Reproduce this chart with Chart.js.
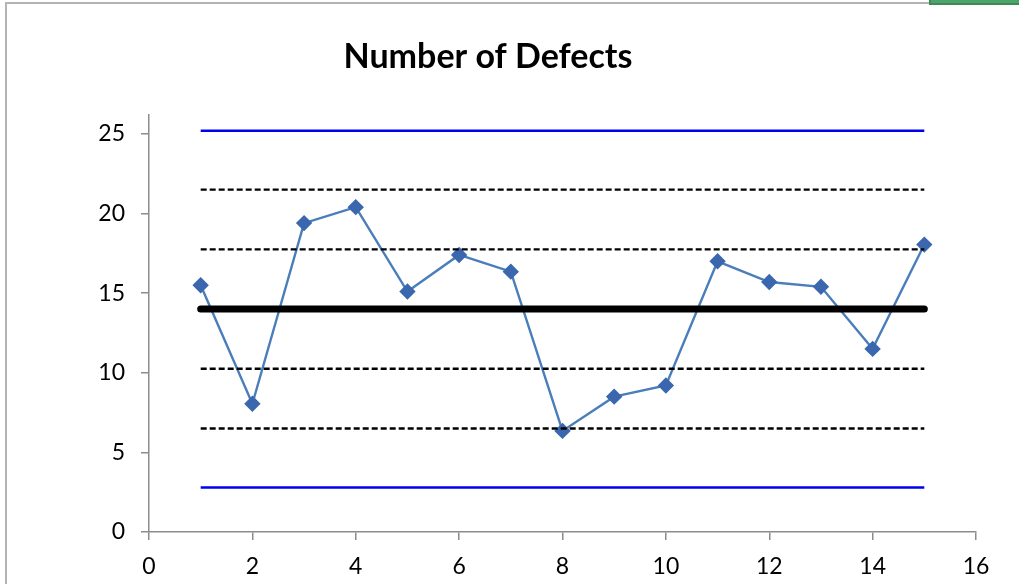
<!DOCTYPE html>
<html>
<head>
<meta charset="utf-8">
<script src="https://cdn.jsdelivr.net/npm/chart.js@4/dist/chart.umd.min.js"></script>
<style>
  html, body { margin: 0; padding: 0; background: #fff; }
  #wrap { width: 1019px; height: 584px; position: relative; }
</style>
</head>
<body>
<div id="wrap"><canvas id="grafico"></canvas></div>
<script>
// amostras e numero de defeitos
const amostras = [1, 2, 3, 4, 5, 6, 7, 8, 9, 10, 11, 12, 13, 14, 15];
const defeitos = [15.5, 8.05, 19.4, 20.4, 15.1, 17.4, 16.35, 6.35, 8.5, 9.2, 17.0, 15.7, 15.4, 11.5, 18.05];

// limites de controle
const media = 14.0;
const limitesSigma = [17.75, 10.25];
const limitesDoisSigma = [21.5, 6.5];
const limitesControle = [25.2, 2.8];

const ticksX = [0, 2, 4, 6, 8, 10, 12, 14, 16];
const ticksY = [0, 5, 10, 15, 20, 25];

const xIni = amostras[0];
const xFim = amostras[amostras.length - 1];

function linhaHorizontal(valor) {
    return [{ x: xIni, y: valor }, { x: xFim, y: valor }];
}

const fonte = "Lato, 'Open Sans', sans-serif";
const corEixo = "#8c8c8c";

const datasets = [];

limitesControle.forEach(v => datasets.push({
    data: linhaHorizontal(v), borderColor: "#0000ee", borderWidth: 2.5,
    pointRadius: 0, order: 1
}));
limitesDoisSigma.concat(limitesSigma).forEach(v => datasets.push({
    data: linhaHorizontal(v), borderColor: "#000", borderWidth: 2.4,
    borderDash: [6, 3], pointRadius: 0, order: 1
}));
datasets.push({
    data: linhaHorizontal(media), borderColor: "#000", borderWidth: 7,
    borderCapStyle: "round", pointRadius: 0, order: 0
});
datasets.push({
    data: amostras.map((a, i) => ({ x: a, y: defeitos[i] })),
    borderColor: "#4a7ebb", borderWidth: 2.4,
    pointStyle: "rectRot", pointRadius: 6.5, pointHoverRadius: 6.5,
    pointBackgroundColor: "#3a67ae", pointBorderColor: "#3a67ae",
    order: 2
});

// moldura da area do grafico (borda cinza e marcador verde)
const moldura = {
    id: "moldura",
    beforeDraw(chart) {
        const ctx = chart.ctx;
        ctx.save();
        ctx.strokeStyle = "#b4b4b4";
        ctx.lineWidth = 2;
        ctx.beginPath();
        ctx.moveTo(6, 584);
        ctx.lineTo(6, 3);
        ctx.lineTo(929, 3);
        ctx.stroke();
        ctx.fillStyle = "#4ca46a";
        ctx.fillRect(929, 0, 90, 4);
        ctx.fillStyle = "#3d8a57";
        ctx.fillRect(929, 0, 2, 5);
        ctx.fillRect(929, 3, 90, 2);
        ctx.restore();
    }
};

new Chart(document.getElementById("grafico"), {
    type: "line",
    data: { datasets },
    plugins: [moldura],
    options: {
        responsive: true,
        maintainAspectRatio: false,
        animation: false,
        layout: { padding: { left: 0, right: 43, top: 0, bottom: 0 } },
        plugins: {
            legend: { display: false },
            tooltip: { enabled: false },
            title: {
                display: true,
                text: "Number of Defects",
                color: "#000",
                font: { family: fonte, size: 34, weight: "bold" },
                padding: { top: 37, bottom: 37 }
            }
        },
        scales: {
            x: {
                type: "linear",
                min: 0, max: 16,
                afterBuildTicks: s => { s.ticks = ticksX.map(v => ({ value: v })); },
                afterFit: s => { s.height = 52; },
                border: { color: corEixo, width: 1.5 },
                grid: { drawOnChartArea: false, color: corEixo, tickLength: 8, lineWidth: 1.5 },
                ticks: { color: "#000", padding: 13, font: { family: fonte, size: 23 } }
            },
            y: {
                type: "linear",
                min: 0, max: 26.2,
                afterBuildTicks: s => { s.ticks = ticksY.map(v => ({ value: v })); },
                afterFit: s => { s.width = 149; },
                border: { color: corEixo, width: 1.5 },
                grid: { drawOnChartArea: false, color: corEixo, tickLength: 8, lineWidth: 1.5 },
                ticks: { color: "#000", padding: 16, font: { family: fonte, size: 23 } }
            }
        }
    }
});
</script>
</body>
</html>
